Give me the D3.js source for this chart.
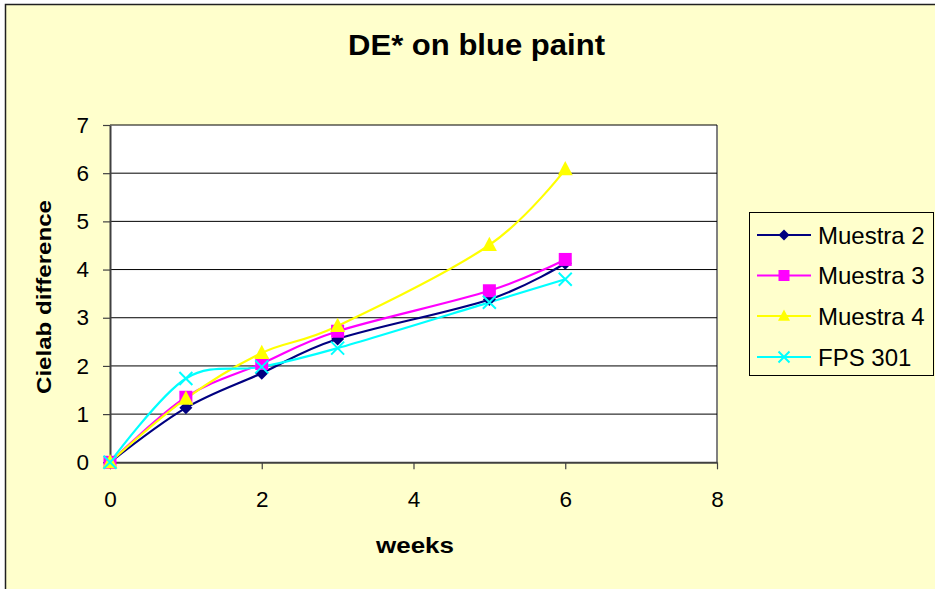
<!DOCTYPE html>
<html>
<head>
<meta charset="utf-8">
<script src="https://cdn.jsdelivr.net/npm/d3@7"></script>
<style>
  html, body { margin: 0; padding: 0; background: #ffffff; }
  svg { display: block; font-family: "Liberation Sans", Arial, sans-serif; }
</style>
</head>
<body>
<svg id="chart" width="935" height="589"></svg>
<script>
// Weeks of exposure and colour difference (CIELAB ΔE*) per sample
const weeks = [0, 1, 2, 3, 5, 6];
const muestra2 = [0, 1.13, 1.85, 2.56, 3.38, 4.13];
const muestra3 = [0, 1.35, 2.05, 2.72, 3.56, 4.21];
const muestra4 = [0, 1.32, 2.27, 2.83, 4.51, 6.08];
const fps301   = [0, 1.74, 1.98, 2.37, 3.32, 3.80];

const seriesNames = ["Muestra 2", "Muestra 3", "Muestra 4", "FPS 301"];
const seriesValues = [muestra2, muestra3, muestra4, fps301];
const seriesColors = ["#000080", "#ff00ff", "#ffff00", "#00ffff"];
const seriesMarkers = ["diamond", "square", "triangle", "cross"];

const xTicks = [0, 2, 4, 6, 8];
const yTicks = [0, 1, 2, 3, 4, 5, 6, 7];

const svg = d3.select("#chart");

// Chart area background and frame
svg.append("rect")
  .attr("x", 5.5).attr("y", 4.5)
  .attr("width", 940).attr("height", 600)
  .attr("fill", "#ffffcc")
  .attr("stroke", "#202020").attr("stroke-width", 1.5);

const plot = { left: 110, right: 717, top: 125, bottom: 462.3 };

const x = d3.scaleLinear().domain([0, 8]).range([plot.left, plot.right]);
const y = d3.scaleLinear().domain([0, 7]).range([plot.bottom, plot.top]);

// Plot area
svg.append("rect")
  .attr("x", plot.left).attr("y", plot.top)
  .attr("width", plot.right - plot.left).attr("height", plot.bottom - plot.top)
  .attr("fill", "#ffffff");

// Right border of plot area
svg.append("line")
  .attr("x1", plot.right).attr("x2", plot.right)
  .attr("y1", plot.top).attr("y2", plot.bottom)
  .attr("stroke", "#808080").attr("stroke-width", 2);

// Horizontal gridlines
svg.append("g")
  .selectAll("line")
  .data(yTicks.filter(d => d > 0))
  .join("line")
  .attr("x1", plot.left).attr("x2", plot.right)
  .attr("y1", d => y(d)).attr("y2", d => y(d))
  .attr("stroke", "#000000").attr("stroke-width", 1);

// Axes
const yAxis = svg.append("g")
  .attr("transform", `translate(${plot.left},0)`)
  .call(d3.axisLeft(y).tickValues(yTicks).tickSize(7).tickSizeOuter(0).tickPadding(14).tickFormat(d3.format("d")));

const xAxis = svg.append("g")
  .attr("transform", `translate(0,${plot.bottom})`)
  .call(d3.axisBottom(x).tickValues(xTicks).tickSize(7).tickSizeOuter(0).tickPadding(22).tickFormat(d3.format("d")));

[yAxis, xAxis].forEach(g => {
  g.select(".domain").attr("stroke", "#404040").attr("stroke-width", 2);
  g.selectAll(".tick line").attr("stroke", "#404040").attr("stroke-width", 1.2);
  g.selectAll(".tick text")
    .attr("fill", "#000000")
    .style("font-size", "22.5px")
    .style("font-family", "'Liberation Sans', Arial, sans-serif");
});

// Marker shapes
function markerPath(type, s) {
  switch (type) {
    case "diamond":
      return `M0,${-s}L${s},0L0,${s}L${-s},0Z`;
    case "square":
      return `M${-s},${-s}H${s}V${s}H${-s}Z`;
    case "triangle":
      return `M0,${-s * 1.1}L${s},${s * 0.8}L${-s},${s * 0.8}Z`;
    case "cross":
      return `M${-s},${-s}L${s},${s}M${-s},${s}L${s},${-s}`;
  }
}
const markerSize = { diamond: 6.5, square: 6.5, triangle: 7.5, cross: 6.5 };
const legendMarkerSize = { diamond: 5.5, square: 5.5, triangle: 6, cross: 5.5 };

function drawMarker(sel, type, color, s) {
  if (type === "cross") {
    sel.attr("d", markerPath(type, s)).attr("fill", "none")
      .attr("stroke", color).attr("stroke-width", 2);
  } else {
    sel.attr("d", markerPath(type, s)).attr("fill", color).attr("stroke", "none");
  }
}

// Smoothed series lines
const line = d3.line()
  .x(d => x(d[0]))
  .y(d => y(d[1]))
  .curve(d3.curveCardinal.tension(0));

seriesValues.forEach((vals, i) => {
  const pts = weeks.map((w, j) => [w, vals[j]]);
  svg.append("path")
    .datum(pts)
    .attr("d", line)
    .attr("fill", "none")
    .attr("stroke", seriesColors[i])
    .attr("stroke-width", 2.2);
});

seriesValues.forEach((vals, i) => {
  const pts = weeks.map((w, j) => [w, vals[j]]);
  svg.append("g")
    .selectAll("path")
    .data(pts)
    .join("path")
    .attr("transform", d => `translate(${x(d[0])},${y(d[1])})`)
    .call(drawMarker, seriesMarkers[i], seriesColors[i], markerSize[seriesMarkers[i]]);
});

// Title
svg.append("text")
  .attr("x", 476.5).attr("y", 55)
  .attr("text-anchor", "middle")
  .attr("textLength", 257)
  .attr("lengthAdjust", "spacingAndGlyphs")
  .style("font-size", "29px").style("font-weight", "bold")
  .text("DE* on blue paint");

// Axis titles
svg.append("text")
  .attr("x", 415).attr("y", 553)
  .attr("text-anchor", "middle")
  .attr("textLength", 78)
  .attr("lengthAdjust", "spacingAndGlyphs")
  .style("font-size", "22px").style("font-weight", "bold")
  .text("weeks");

svg.append("text")
  .attr("transform", "translate(51,297) rotate(-90)")
  .attr("text-anchor", "middle")
  .attr("textLength", 194)
  .attr("lengthAdjust", "spacingAndGlyphs")
  .style("font-size", "20px").style("font-weight", "bold")
  .text("Cielab difference");

// Legend
const legend = svg.append("g");
legend.append("rect")
  .attr("x", 749.5).attr("y", 212.5)
  .attr("width", 184).attr("height", 163)
  .attr("fill", "#ffffcc")
  .attr("stroke", "#000000").attr("stroke-width", 1);

const rowY = [235, 275.5, 316, 357];
seriesNames.forEach((name, i) => {
  const g = legend.append("g").attr("transform", `translate(0,${rowY[i]})`);
  g.append("line")
    .attr("x1", 757).attr("x2", 811)
    .attr("stroke", seriesColors[i]).attr("stroke-width", 2);
  g.append("path")
    .attr("transform", "translate(784,0)")
    .call(drawMarker, seriesMarkers[i], seriesColors[i], legendMarkerSize[seriesMarkers[i]]);
  g.append("text")
    .attr("x", 818).attr("y", 8.5)
    .style("font-size", "24px")
    .text(name);
});
</script>
</body>
</html>
